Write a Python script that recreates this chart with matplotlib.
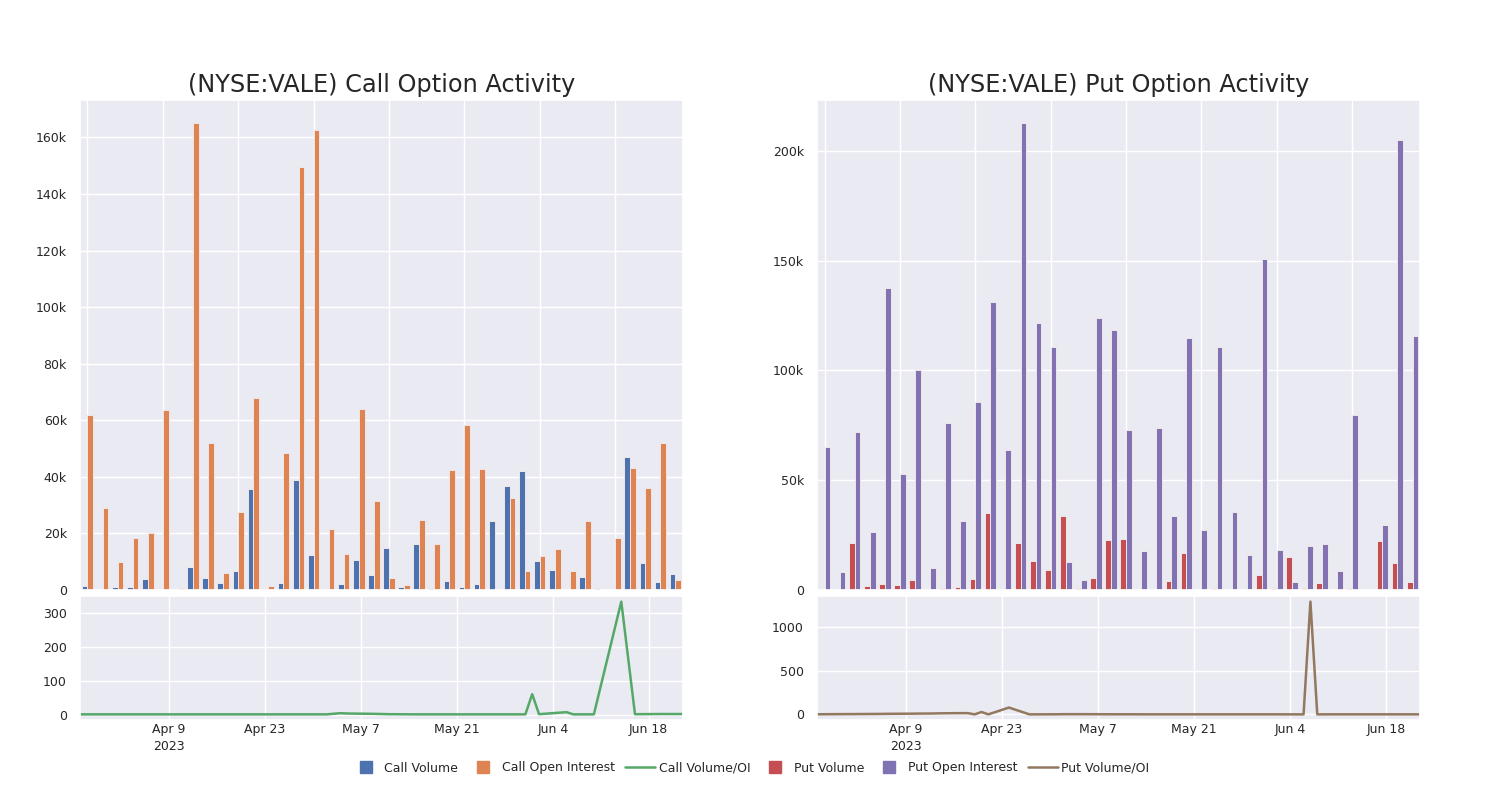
import numpy as np
import pandas as pd
import matplotlib
matplotlib.use("Agg")
import matplotlib.pyplot as plt
import matplotlib.ticker as mticker
from matplotlib.lines import Line2D
import seaborn as sns

sns.set_theme(style="darkgrid")
plt.rcParams['font.family'] = ['DejaVu Sans']

dates = pd.to_datetime([
    "2023-03-27", "2023-03-29", "2023-03-31", "2023-04-03", "2023-04-05",
    "2023-04-06", "2023-04-10", "2023-04-11", "2023-04-13", "2023-04-14",
    "2023-04-17", "2023-04-18", "2023-04-19", "2023-04-20", "2023-04-21",
    "2023-04-24", "2023-04-27", "2023-05-01", "2023-05-02", "2023-05-04",
    "2023-05-05", "2023-05-09", "2023-05-11", "2023-05-15", "2023-05-17",
    "2023-05-19", "2023-05-23", "2023-05-26", "2023-05-31", "2023-06-01",
    "2023-06-02", "2023-06-06", "2023-06-07", "2023-06-08", "2023-06-10",
    "2023-06-14", "2023-06-16", "2023-06-20", "2023-06-22", "2023-06-23",
])

call_volume = [1400, 200, 1100, 900, 3800, 500, 500, 8000, 4100, 2400,
               6600, 35600, 500, 2500, 39000, 12200, 100, 2000, 10500, 5300,
               14800, 1000, 16300, 800, 3100, 1200, 2100, 24500, 36700, 41900,
               10400, 7100, 400, 4500, 600, 300, 47200, 9400, 2800, 5700]
call_oi = [62000, 29000, 10000, 18300, 20000, 63500, 800, 165000, 51800, 6100,
           27700, 68000, 1500, 48400, 149500, 162500, 21500, 12700, 64000, 31300,
           4400, 1600, 24900, 16300, 42500, 58200, 42700, 200, 32400, 6600,
           12000, 14600, 6800, 24500, 0, 18300, 43300, 36200, 52100, 3500]
call_ratio = [0.5, 0.5, 0.5, 0.5, 0.5, 0.5, 0.5, 0.5, 0.5, 0.5,
              0.5, 0.5, 0.5, 0.5, 0.5, 0.5, 0.5, 0.5, 0.5, 4,
              3, 2, 1, 0.5, 0.5, 0.5, 0.5, 0.5, 0.5, 60,
              1, 7, 0.5, 0.5, 0.5, 333, 1, 1.5, 1.5, 1.5]

put_volume = [100, 500, 21600, 1800, 2900, 2100, 4600, 300, 900, 1500,
              5000, 35000, 100, 21300, 13100, 9100, 33600, 900, 5600, 23000,
              23300, 600, 300, 4300, 17000, 100, 900, 100, 600, 7000,
              1000, 15200, 800, 3200, 100, 800, 100, 22500, 12200, 3500]
put_oi = [65000, 8000, 71800, 26300, 137400, 52700, 100000, 10200, 76100, 31500,
          85700, 131200, 63800, 212600, 121600, 110700, 12600, 4600, 123700, 118600,
          73000, 17800, 73800, 33500, 114600, 27200, 110500, 35500, 15800, 150700,
          18400, 3500, 20200, 20900, 8800, 79600, 600, 29800, 205200, 115700]
put_ratio = [1, 2, 3, 4, 5, 6, 8, 9, 10, 12,
             14, 14, 0, 27, 0, 78, 0, 1, 2, 2,
             2, 1, 1, 0.5, 0.5, 0.5, 0.5, 0.5, 0.5, 0.5,
             0.5, 0, 1293, 0, 0.5, 0.5, 0.5, 0.5, 0.5, 0.5]

pal = sns.color_palette("deep")
c_blue, c_orange, c_green, c_red, c_purple, c_brown = pal[0], pal[1], pal[2], pal[3], pal[4], pal[5]

tick_dates = pd.date_range("2023-04-09", periods=6, freq="14D")
tick_labels = [d.strftime("%b ") + str(d.day) for d in tick_dates]
tick_labels[0] = tick_labels[0] + "\n2023"


def k_fmt(v, pos):
    if v == 0:
        return "0"
    return f"{int(round(v / 1000))}k"


def draw_panel(left, title, vol, oi, ratio, cv, co, cl, ystep, rstep):
    ax = fig.add_axes([left, 0.2625, 0.402, 0.6125])
    axl = fig.add_axes([left, 0.1, 0.402, 0.155])
    x = np.arange(len(vol))
    w = 0.38
    ax.bar(x - w / 2, vol, width=w, color=cv, edgecolor="#f0e6e6", linewidth=0.7)
    ax.bar(x + w / 2, oi, width=w, color=co, edgecolor="#f0e6e6", linewidth=0.7)
    ax.set_xlim(-0.5, len(vol) - 0.5)
    ax.set_ylim(0, max(max(vol), max(oi)) * 1.05)
    ax.set_xticks(range(0, len(vol), 5))
    ax.tick_params(labelbottom=False, labelsize=9)
    ax.yaxis.set_major_locator(mticker.MultipleLocator(ystep))
    ax.yaxis.set_major_formatter(mticker.FuncFormatter(k_fmt))
    ax.set_title(title, fontsize=17.3, pad=6)

    axl.plot(dates, ratio, color=cl, linewidth=1.8)
    axl.set_xlim(dates[0], dates[-1])
    axl.yaxis.set_major_locator(mticker.MultipleLocator(rstep))
    axl.set_xticks(tick_dates)
    axl.set_xticklabels(tick_labels, linespacing=1.4)
    axl.tick_params(labelsize=9)
    axl.tick_params(axis="x", pad=-4)
    return ax, axl


fig = plt.figure(figsize=(15, 8), dpi=100)

draw_panel(0.0533, "(NYSE:VALE) Call Option Activity", call_volume, call_oi, call_ratio,
           c_blue, c_orange, c_green, 20000, 100)
draw_panel(0.5447, "(NYSE:VALE) Put Option Activity", put_volume, put_oi, put_ratio,
           c_red, c_purple, c_brown, 50000, 500)


def sq(c):
    return Line2D([], [], color=c, marker="s", markersize=9, linestyle="none")


handles = [
    sq(c_blue), sq(c_orange), Line2D([], [], color=c_green, lw=1.8),
    sq(c_red), sq(c_purple), Line2D([], [], color=c_brown, lw=1.8),
]
labels = ["Call Volume", "Call Open Interest", "Call Volume/OI",
          "Put Volume", "Put Open Interest", "Put Volume/OI"]
fig.legend(handles, labels, loc="center", bbox_to_anchor=(0.5, 0.04), ncol=6,
           frameon=False, fontsize=9, handlelength=2.4, handletextpad=0.3,
           columnspacing=0.8, numpoints=1)

fig.savefig("out.png", dpi=100, facecolor="white")
